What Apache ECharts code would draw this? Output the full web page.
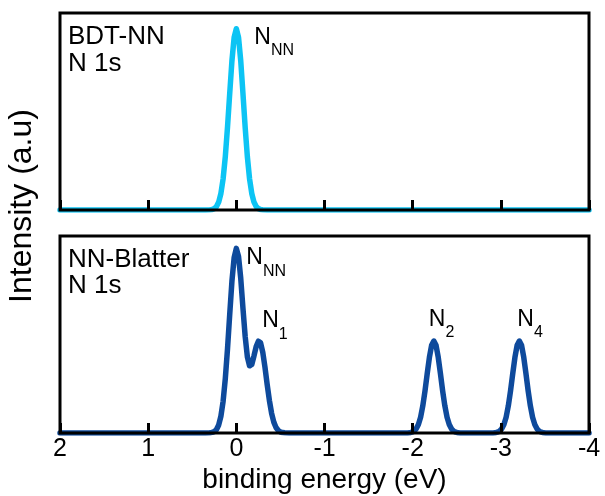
<!DOCTYPE html>
<html>
<head>
<meta charset="utf-8">
<script src="https://cdn.jsdelivr.net/npm/echarts@6/dist/echarts.min.js"></script>
<style>
  html, body { margin: 0; padding: 0; background: #fff; }
  #main { width: 605px; height: 496px; }
</style>
</head>
<body>
<div id="main"></div>
<script>
// Binding-energy axis ticks (eV), drawn high -> low from left to right
const energyTicks = [2, 1, 0, -1, -2, -3, -4];

// BDT-NN, N 1s spectrum
const topEnergy = [2.0, 0.35, 0.3, 0.275, 0.25, 0.225, 0.2, 0.175, 0.15, 0.125, 0.1, 0.075, 0.05, 0.025,
  0, -0.025, -0.05, -0.075, -0.1, -0.125, -0.15, -0.175, -0.2, -0.225, -0.25, -0.275, -0.3, -0.35, -4.0];
const topIntensity = [0, 0, 0.001, 0.002, 0.007, 0.018, 0.040, 0.084, 0.158, 0.271, 0.421, 0.592, 0.757, 0.876,
  0.920, 0.876, 0.757, 0.592, 0.421, 0.271, 0.158, 0.084, 0.040, 0.018, 0.007, 0.002, 0.001, 0, 0];

// NN-Blatter, N 1s spectrum
const bottomEnergy = [2.0, 0.35, 0.3, 0.275, 0.25, 0.225, 0.2, 0.175, 0.15, 0.125, 0.1, 0.075, 0.05, 0.025,
  0, -0.025, -0.05, -0.075, -0.1, -0.125, -0.15, -0.175, -0.2, -0.225, -0.25, -0.275, -0.3, -0.325, -0.35,
  -0.375, -0.4, -0.425, -0.45, -0.475, -0.5, -0.525, -0.55, -0.6,
  -1.94, -1.965, -1.99, -2.015, -2.04, -2.065, -2.09, -2.115, -2.14, -2.165, -2.19, -2.215, -2.24,
  -2.265, -2.29, -2.315, -2.34, -2.365, -2.39, -2.415, -2.44, -2.465, -2.49, -2.515, -2.54,
  -2.91, -2.935, -2.96, -2.985, -3.01, -3.035, -3.06, -3.085, -3.11, -3.135, -3.16, -3.185, -3.21,
  -3.235, -3.26, -3.285, -3.31, -3.335, -3.36, -3.385, -3.41, -3.435, -3.46, -3.485, -3.51, -4.0];
const bottomIntensity = [0, 0, 0.001, 0.003, 0.007, 0.018, 0.041, 0.085, 0.161, 0.276, 0.428, 0.602, 0.770, 0.890,
  0.937, 0.896, 0.785, 0.634, 0.491, 0.387, 0.341, 0.348, 0.391, 0.439, 0.466, 0.458, 0.409, 0.333, 0.246,
  0.165, 0.100, 0.055, 0.028, 0.013, 0.005, 0.002, 0.001, 0,
  0, 0.001, 0.004, 0.009, 0.021, 0.043, 0.080, 0.138, 0.214, 0.301, 0.384, 0.445, 0.467,
  0.445, 0.384, 0.301, 0.214, 0.138, 0.080, 0.043, 0.021, 0.009, 0.004, 0.001, 0,
  0, 0.001, 0.004, 0.009, 0.021, 0.043, 0.080, 0.138, 0.214, 0.301, 0.384, 0.445, 0.467,
  0.445, 0.384, 0.301, 0.214, 0.138, 0.080, 0.043, 0.021, 0.009, 0.004, 0.001, 0, 0];

// Peak assignments: [energy, intensity, subscript]
const topPeaks = [[0, 0.92, 'NN']];
const bottomPeaks = [[0, 0.937, 'NN'], [-0.26, 0.466, '1'], [-2.24, 0.467, '2'], [-3.21, 0.467, '4']];

const panelTitles = ['BDT-NN\nN 1s', 'NN-Blatter\nN 1s'];
const xTitle = 'binding energy (eV)';
const yTitle = 'Intensity (a.u)';

const FONT = '"Liberation Sans", Arial, Helvetica, sans-serif';
const topLabelOffsets = [[18, -3]];
const bottomLabelOffsets = [[10, -2], [3, -32], [-5, -33], [-2, -33]];

const chart = echarts.init(document.getElementById('main'), null, { renderer: 'canvas' });

function pairs(xs, ys) { return xs.map((x, i) => [x, ys[i]]); }

const richSub = {
  n: { fontSize: 23, lineHeight: 23, verticalAlign: 'top', fontFamily: FONT, color: '#000' },
  s: { fontSize: 16, lineHeight: 16, padding: [17, 0, 0, 0], verticalAlign: 'top', fontFamily: FONT, color: '#000' }
};

function peakMarks(peaks, offsets) {
  return {
    symbol: 'circle',
    symbolSize: 0,
    silent: true,
    label: { show: true, align: 'left', verticalAlign: 'top', rich: richSub },
    data: peaks.map((p, i) => ({
      coord: [p[0], p[1]],
      label: { formatter: '{n|N}{s|' + p[2] + '}', position: offsets[i] }
    }))
  };
}

function energyAxis(gridIndex, withLabels) {
  return {
    type: 'value',
    gridIndex: gridIndex,
    min: energyTicks[energyTicks.length - 1],
    max: energyTicks[0],
    interval: 1,
    inverse: true,
    z: 4,
    axisLine: { show: false },
    splitLine: { show: false },
    axisTick: { show: true, inside: true, length: 10, lineStyle: { color: '#000', width: 3 } },
    axisLabel: {
      show: withLabels, color: '#000', fontSize: 25, fontFamily: FONT, margin: 4,
      formatter: v => String(v)
    },
    name: withLabels ? xTitle : '',
    nameLocation: 'middle',
    nameGap: 33,
    nameTextStyle: { color: '#000', fontSize: 28, fontFamily: FONT, verticalAlign: 'top' }
  };
}

const frame = { show: true, borderColor: '#000', borderWidth: 3, backgroundColor: 'transparent', z: 3 };

chart.setOption({
  animation: false,
  backgroundColor: '#fff',
  title: [
    { text: panelTitles[0], left: 68, top: 23, padding: 0,
      textStyle: { fontSize: 26, lineHeight: 27, fontWeight: 'normal', color: '#000', fontFamily: FONT } },
    { text: panelTitles[1], left: 68, top: 247, padding: 0,
      textStyle: { fontSize: 26, lineHeight: 26, fontWeight: 'normal', color: '#000', fontFamily: FONT } }
  ],
  grid: [
    Object.assign({ left: 60, top: 13, width: 529, height: 197 }, frame),
    Object.assign({ left: 60, top: 236, width: 529, height: 197 }, frame)
  ],
  xAxis: [energyAxis(0, false), energyAxis(1, true)],
  yAxis: [
    { type: 'value', gridIndex: 0, min: 0, max: 1, show: false },
    { type: 'value', gridIndex: 1, min: 0, max: 1, show: false }
  ],
  graphic: [{
    type: 'text',
    x: 22, y: 206,
    rotation: Math.PI / 2,
    style: { text: yTitle, fill: '#000', fontSize: 32, fontFamily: FONT, align: 'center', verticalAlign: 'middle' }
  }],
  series: [
    {
      type: 'line', xAxisIndex: 0, yAxisIndex: 0, z: 2,
      data: pairs(topEnergy, topIntensity),
      symbol: 'none', smooth: false,
      lineStyle: { color: '#0cc4f4', width: 5.5, cap: 'round', join: 'round' },
      markPoint: peakMarks(topPeaks, topLabelOffsets)
    },
    {
      type: 'line', xAxisIndex: 1, yAxisIndex: 1, z: 2,
      data: pairs(bottomEnergy, bottomIntensity),
      symbol: 'none', smooth: false,
      lineStyle: { color: '#0e4a9c', width: 5.5, cap: 'round', join: 'round' },
      markPoint: peakMarks(bottomPeaks, bottomLabelOffsets)
    }
  ]
});
</script>
</body>
</html>
